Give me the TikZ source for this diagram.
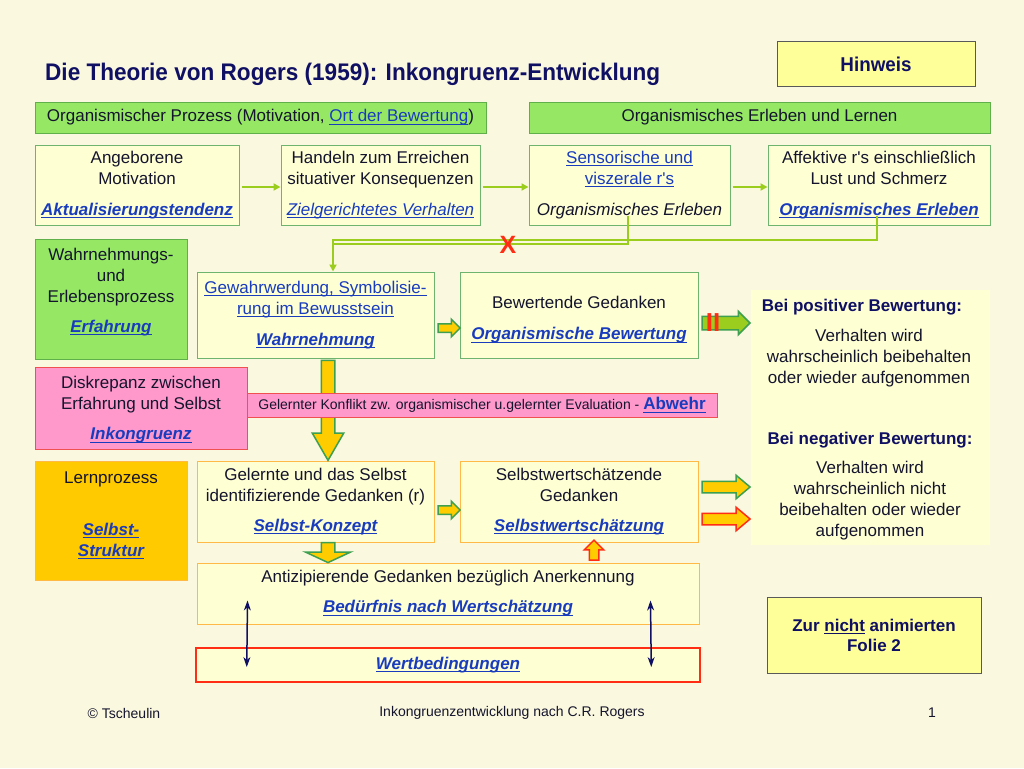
\documentclass[tikz,border=0pt]{standalone}
\usepackage{fontspec}
\setmainfont{Liberation Sans}
\newfontfamily\titlefont[FakeStretch=0.94]{Liberation Sans}
\usetikzlibrary{%
  arrows.meta,%
  shapes.arrows,% wg. single arrow
  calc,%
  positioning%
}

\definecolor{bg}{RGB}{250,248,222}
\definecolor{boxyellow}{RGB}{255,255,212}
\definecolor{hdrgreen}{RGB}{150,232,100}
\definecolor{hdredge}{RGB}{95,175,75}
\definecolor{edgegreen}{RGB}{110,180,110}
\definecolor{linkblue}{RGB}{25,60,190}
\definecolor{navy}{RGB}{15,15,100}
\definecolor{txt}{RGB}{20,20,45}
\definecolor{connlime}{RGB}{155,205,30}
\definecolor{arrgreen}{RGB}{60,160,80}
\definecolor{arryellow}{RGB}{255,204,0}
\definecolor{alarmred}{RGB}{255,45,20}
\definecolor{boxpink}{RGB}{255,153,204}
\definecolor{pinkedge}{RGB}{240,80,80}
\definecolor{edgeorange}{RGB}{255,185,70}
\definecolor{lernorange}{RGB}{255,202,0}
\definecolor{hintyellow}{RGB}{255,255,153}

\newcommand\bodyfont{\fontsize{17}{21}\selectfont}
\newcommand\smallfont{\fontsize{14}{17}\selectfont}
\newcommand\uln[1]{{\setbox0=\hbox{#1}\rlap{\vrule height -1.8pt depth 2.9pt width \wd0}\box0}}
\newcommand\lnk[1]{\textcolor{linkblue}{\uln{#1}}}
\newcommand\kw[1]{\textcolor{linkblue}{\bfseries\itshape\uln{#1}}}
\newcommand\rs{r\textquotesingle s}

\begin{document}
\begin{tikzpicture}[
  x=1pt,y=-1pt,
  font=\bodyfont,
  text=txt,
  >={Triangle[length=7pt,width=7pt]},
  hdrbox/.style={draw=hdredge, fill=hdrgreen, line width=1pt, inner sep=0pt, minimum height=31},
  gbox/.style={draw=edgegreen, fill=boxyellow, line width=1pt, align=center, inner sep=0pt},
  obox/.style={draw=edgeorange, fill=boxyellow, line width=1pt, align=center, inner sep=0pt},
  hintbox/.style={draw=black!65, fill=hintyellow, line width=1pt, align=center, inner sep=0pt, text=navy, font=\bfseries\fontsize{17}{20}\selectfont},
  conn/.style={draw=connlime, line width=2pt},
  dblarr/.style={draw=navy, line width=1.5pt, {Stealth[length=10pt,width=7pt]}-{Stealth[length=10pt,width=7pt]}},
  fatarr/.style={single arrow, draw=arrgreen, fill=arryellow, line width=1.5pt, single arrow head indent=0pt, inner sep=0pt, minimum width=0pt},
  redarr/.style={fatarr, draw=alarmred},
]

\fill[bg] (0,0) rectangle (1024,768);

% Titel
\node[anchor=base west, inner sep=0pt, text=navy, font=\titlefont\bfseries\fontsize{24}{28}\selectfont] (title) at (45,80) {Die Theorie von Rogers (1959): Inkongruenz-Entwicklung};
\node[hintbox, font=\titlefont\bfseries\fontsize{20}{24}\selectfont, minimum width=198, minimum height=44] (hint) at (876,64) {Hinweis};

% Kopfzeile
\node[hdrbox, minimum width=451] (hdrorg) at (260.5,117.5) {Organismischer Prozess (Motivation, \lnk{Ort der Bewertung})};
\node[hdrbox, minimum width=461] (hdrerl) at (759.5,117.5) {Organismisches Erleben und Lernen};

% erste Reihe
\node[gbox, minimum width=204, minimum height=80] (angeb) at (137,185) {Angeborene\\Motivation\\[10pt]\kw{Aktualisierungstendenz}};
\node[gbox, minimum width=199, minimum height=80] (handeln) at (380.5,185) {Handeln zum Erreichen\\situativer Konsequenzen\\[10pt]\textcolor{linkblue}{\itshape\uln{Zielgerichtetes Verhalten}}};
\node[gbox, minimum width=201, minimum height=80] (sensor) at (629.5,185) {\lnk{Sensorische und}\\\lnk{viszerale \rs}\\[10pt]\textit{Organismisches Erleben}};
\node[gbox, minimum width=222, minimum height=80] (affekt) at (879,185) {Affektive \rs{} einschließlich\\Lust und Schmerz\\[10pt]\kw{Organismisches Erleben}};

\draw[conn,->] ([xshift=2pt,yshift=-2pt]angeb.east) -- ([yshift=-2pt]handeln.west);
\draw[conn,->] ([xshift=2pt,yshift=-2pt]handeln.east) -- ([yshift=-2pt]sensor.west);
\draw[conn,->] ([xshift=2pt,yshift=-2pt]sensor.east) -- ([yshift=-2pt]affekt.west);

% zweite Reihe
\node[gbox, fill=hdrgreen, draw=hdredge, minimum width=152, minimum height=120] (wahrn) at (111,299) {Wahrnehmungs-\\und\\Erlebensprozess\\[9pt]\kw{Erfahrung}\\[-3pt]\mbox{}};
\node[gbox, minimum width=237, minimum height=86] (gewahr) at (315.5,315) {\lnk{Gewahrwerdung, Symbolisie-}\\\lnk{rung im Bewusstsein}\\[10pt]\kw{Wahrnehmung}};
\node[gbox, minimum width=238, minimum height=86] (bewert) at (579,315) {\mbox{}\\[1pt]Bewertende Gedanken\\[10pt]\kw{Organismische Bewertung}};

\coordinate (drop) at ([xshift=17.5pt]gewahr.north);
\draw[conn] ([xshift=-2pt,yshift=10pt]sensor.south) |- ([yshift=28pt]drop);
\draw[conn,->] ([xshift=-2pt,yshift=10pt]affekt.south) |- ([yshift=32pt]drop) -- (drop);
\node[text=alarmred, font=\bfseries\fontsize{25}{25}\selectfont] (xmark) at (508,245) {X};

% Bewertungsfeld rechts
\node[fill=boxyellow, minimum width=239, minimum height=255, inner sep=0pt] (panel) at (870.5,417.5) {};
\node[text=navy, font=\bfseries\bodyfont] (posT) at (862,307) {Bei positiver Bewertung:};
\node[align=center] (posB) at (869,358) {Verhalten wird\\wahrscheinlich beibehalten\\oder wieder aufgenommen};
\node[text=navy, font=\bfseries\bodyfont] (negT) at (870,440) {Bei negativer Bewertung:};
\node[align=center] (negB) at (870,501) {Verhalten wird\\wahrscheinlich nicht\\beibehalten oder wieder\\aufgenommen};

\node[fatarr, minimum height=22pt, inner ysep=3.5pt, single arrow head extend=4.5pt, yshift=-13pt] (fgb) at ($(gewahr.east)!0.5!(bewert.west)$) {};
\node[fatarr, fill=connlime, minimum height=48pt, inner ysep=6pt, single arrow head extend=5pt, xshift=-2pt, yshift=-8pt] (fbp) at ($(bewert.east)!0.5!(bewert.east-|panel.west)$) {};
\node[text=alarmred, font=\bfseries\fontsize{26}{26}\selectfont] (stopmark) at (713,323) {II};

% dritte Reihe
\node[gbox, fill=lernorange, draw=edgeorange, minimum width=152, minimum height=119] (lern) at (111,520.5) {Lernprozess\\[31pt]\kw{Selbst-}\\\kw{Struktur}\\[-8pt]\mbox{}};
\node[obox, minimum width=237, minimum height=81] (gelernt) at (315.5,501.5) {Gelernte und das Selbst\\identifizierende Gedanken (r)\\[9pt]\kw{Selbst-Konzept}};
\node[obox, minimum width=238, minimum height=81] (selbstw) at (579,501.5) {Selbstwertschätzende\\Gedanken\\[9pt]\kw{Selbstwertschätzung}};

% Diskrepanz
\node[fatarr, minimum height=100pt, inner xsep=6pt, single arrow head extend=9pt, single arrow tip angle=60, shape border rotate=270, xshift=12.5pt, yshift=5pt] (fgg) at ($(gewahr.south)!0.5!(gewahr.south|-gelernt.north)$) {};
\node[gbox, fill=boxpink, draw=pinkedge, minimum width=212, minimum height=82] (diskrep) at (141,408) {\mbox{}\\[-5pt]Diskrepanz zwischen\\Erfahrung und Selbst\\[9pt]\kw{Inkongruenz}};
\node[gbox, fill=boxpink, draw=pinkedge, minimum width=470, minimum height=24] (konflikt) at (482,405) {{\smallfont Gelernter Konflikt zw. organismischer u.gelernter Evaluation - }\textcolor{linkblue}{\bfseries\uln{Abwehr}}};

\node[fatarr, minimum height=22pt, inner ysep=3.5pt, single arrow head extend=4.5pt, yshift=-8.5pt] (fgs) at ($(gelernt.east)!0.5!(selbstw.west)$) {};
\node[fatarr, minimum height=48pt, inner ysep=5pt, single arrow head extend=6pt, single arrow tip angle=80, xshift=-2pt, yshift=14.5pt] (fsp) at ($(selbstw.east)!0.5!(selbstw.east-|panel.west)$) {};
\node[redarr, minimum height=48pt, inner ysep=5pt, single arrow head extend=6pt, single arrow tip angle=80, xshift=-2pt, yshift=-17.5pt] (fsn) at ($(selbstw.east)!0.5!(selbstw.east-|panel.west)$) {};

% Anerkennung und Wertbedingungen
\node[obox, minimum width=502, minimum height=61] (antiz) at (448,593.5) {Antizipierende Gedanken bezüglich Anerkennung\\[9pt]\kw{Bedürfnis nach Wertschätzung}};
\node[gbox, draw=alarmred, line width=2.5pt, minimum width=504, minimum height=34] (wertb) at (448,665) {\kw{Wertbedingungen}};

\node[fatarr, minimum height=20pt, inner xsep=6pt, single arrow head extend=15.5pt, single arrow tip angle=130, shape border rotate=270, xshift=12.5pt, yshift=1.5pt] (fga) at ($(gelernt.south)!0.5!(antiz.north-|gelernt.south)$) {};
\node[redarr, minimum height=20pt, inner xsep=4pt, single arrow head extend=5pt, shape border rotate=90, xshift=15pt] (fas) at ($(selbstw.south)!0.5!(antiz.north-|selbstw.south)$) {};

\draw[dblarr] ([xshift=51pt,yshift=-7pt]antiz.west) -- ([xshift=52pt,yshift=-2pt]wertb.west);
\draw[dblarr] ([xshift=-49pt,yshift=-7pt]antiz.east) -- ([xshift=-50pt,yshift=-2pt]wertb.east);

\node[hintbox, minimum width=214, minimum height=76] (zur) at (874,635) {Zur \uln{nicht} animierten\\Folie 2};

% Fusszeile
\node[font=\smallfont] (fcopy) at (124,713) {© Tscheulin};
\node[font=\smallfont] (ftitle) at (512,713) {Inkongruenzentwicklung nach C.R. Rogers};
\node[font=\smallfont] (fpage) at (932,713) {1};
\end{tikzpicture}
\end{document}
